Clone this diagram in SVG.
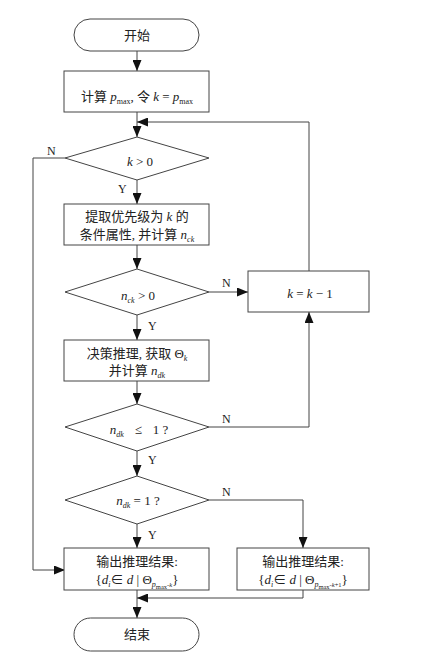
<svg xmlns="http://www.w3.org/2000/svg" width="425" height="656" viewBox="0 0 425 656">
<style>
.shape{fill:#fff;stroke:#444;stroke-width:1}
.line{fill:none;stroke:#444;stroke-width:1}
text{font-family:"Liberation Serif","Noto Sans CJK SC",serif;font-size:13px;fill:#222}
.c{text-anchor:middle}
.i{font-style:italic}
.s{font-size:8px}
.ss{font-size:6.5px}
.lb{font-size:12px}
</style>
<defs>
<marker id="ah" markerUnits="userSpaceOnUse" markerWidth="11" markerHeight="9" refX="11" refY="4.5" orient="auto">
<path d="M0,0 L11,4.5 L0,9 z" fill="#111"/>
</marker>
</defs>
<g id="connectors">
<path class="line" d="M137,51 V71" marker-end="url(#ah)"/>
<path class="line" d="M137,112 V137" marker-end="url(#ah)"/>
<path class="line" d="M137,180 V204" marker-end="url(#ah)"/>
<path class="line" d="M137,245 V269" marker-end="url(#ah)"/>
<path class="line" d="M137,315 V340" marker-end="url(#ah)"/>
<path class="line" d="M137,381 V404" marker-end="url(#ah)"/>
<path class="line" d="M137,451 V476" marker-end="url(#ah)"/>
<path class="line" d="M137,524 V548" marker-end="url(#ah)"/>
<path class="line" d="M137,590 V618" marker-end="url(#ah)"/>
<path class="line" d="M209,292 H248" marker-end="url(#ah)"/>
<path class="line" d="M309,271 V122 H137" marker-end="url(#ah)"/>
<path class="line" d="M209,427 H309 V312" marker-end="url(#ah)"/>
<path class="line" d="M209,500 H303 V548" marker-end="url(#ah)"/>
<path class="line" d="M65,158 H33 V570 H65" marker-end="url(#ah)"/>
<path class="line" d="M303,590 V598 H137" marker-end="url(#ah)"/>
<text class="lb" x="47" y="155">N</text>
<text class="lb" x="118" y="193">Y</text>
<text class="lb" x="222" y="287">N</text>
<text class="lb" x="148" y="330">Y</text>
<text class="lb" x="222" y="423">N</text>
<text class="lb" x="148" y="464">Y</text>
<text class="lb" x="222" y="496">N</text>
<text class="lb" x="148" y="539">Y</text>
</g>
<g id="start">
<rect class="shape" x="74" y="19" width="125" height="32" rx="16" ry="16"/>
<text class="c" x="137" y="40">开始</text>
</g>
<g id="calc-pmax">
<rect class="shape" x="64" y="71" width="145" height="41"/>
<text class="c" x="137" y="101">计算 <tspan class="i">p</tspan><tspan class="s" dy="3">max</tspan><tspan dy="-3">, 令 </tspan><tspan class="i">k</tspan> = <tspan class="i">p</tspan><tspan class="s" dy="3">max</tspan></text>
</g>
<g id="k-gt-0">
<polygon class="shape" points="137,137 209,158 137,180 65,158"/>
<text class="c" x="140" y="166"><tspan class="i">k</tspan> &gt; 0</text>
</g>
<g id="extract">
<rect class="shape" x="64" y="204" width="145" height="41"/>
<text class="c" x="137" y="221">提取优先级为 <tspan class="i">k</tspan> 的</text>
<text class="c" x="137" y="239">条件属性, 并计算 <tspan class="i">n</tspan><tspan class="s i" dy="3">ck</tspan></text>
</g>
<g id="nck-gt-0">
<polygon class="shape" points="137,269 209,292 137,315 65,292"/>
<text class="c" x="138" y="300"><tspan class="i">n</tspan><tspan class="s i" dy="3">ck</tspan><tspan dy="-3"> &gt; 0</tspan></text>
</g>
<g id="k-dec">
<rect class="shape" x="248" y="271" width="121" height="41"/>
<text class="c" x="310" y="298"><tspan class="i">k</tspan> = <tspan class="i">k</tspan> − 1</text>
</g>
<g id="decide">
<rect class="shape" x="64" y="340" width="145" height="41"/>
<text class="c" x="137" y="358">决策推理, 获取 Θ<tspan class="s i" dy="3">k</tspan></text>
<text class="c" x="137" y="375">并计算 <tspan class="i">n</tspan><tspan class="s i" dy="3">dk</tspan></text>
</g>
<g id="ndk-le-1">
<polygon class="shape" points="137,404 209,427 137,451 65,427"/>
<text class="c" x="139" y="434"><tspan class="i">n</tspan><tspan class="s i" dy="3">dk</tspan><tspan dy="-3" dx="11">≤</tspan><tspan dx="11">1 ?</tspan></text>
</g>
<g id="ndk-eq-1">
<polygon class="shape" points="137,476 209,500 137,524 65,500"/>
<text class="c" x="138" y="505"><tspan class="i">n</tspan><tspan class="s i" dy="3">dk</tspan><tspan dy="-3"> = 1 ?</tspan></text>
</g>
<g id="output-k">
<rect class="shape" x="64" y="548" width="145" height="42"/>
<text class="c" x="137" y="566">输出推理结果:</text>
<text class="c" x="137" y="584">{<tspan class="i">d</tspan><tspan class="s i" dy="3">i</tspan><tspan dy="-3">∈ </tspan><tspan class="i">d</tspan> | Θ<tspan class="s i" dy="3">p</tspan><tspan class="ss" dy="2">max</tspan><tspan class="ss" dy="-2">-</tspan><tspan class="ss i">k</tspan><tspan dy="-3">}</tspan></text>
</g>
<g id="output-k1">
<rect class="shape" x="237" y="548" width="132" height="42"/>
<text class="c" x="303" y="566">输出推理结果:</text>
<text class="c" x="303" y="584">{<tspan class="i">d</tspan><tspan class="s i" dy="3">i</tspan><tspan dy="-3">∈ </tspan><tspan class="i">d</tspan> | Θ<tspan class="s i" dy="3">p</tspan><tspan class="ss" dy="2">max</tspan><tspan class="ss" dy="-2">-</tspan><tspan class="ss i">k</tspan><tspan class="ss">+1</tspan><tspan dy="-3">}</tspan></text>
</g>
<g id="end">
<rect class="shape" x="74" y="618" width="125" height="33" rx="16.5" ry="16.5"/>
<text class="c" x="137" y="639">结束</text>
</g>
</svg>
